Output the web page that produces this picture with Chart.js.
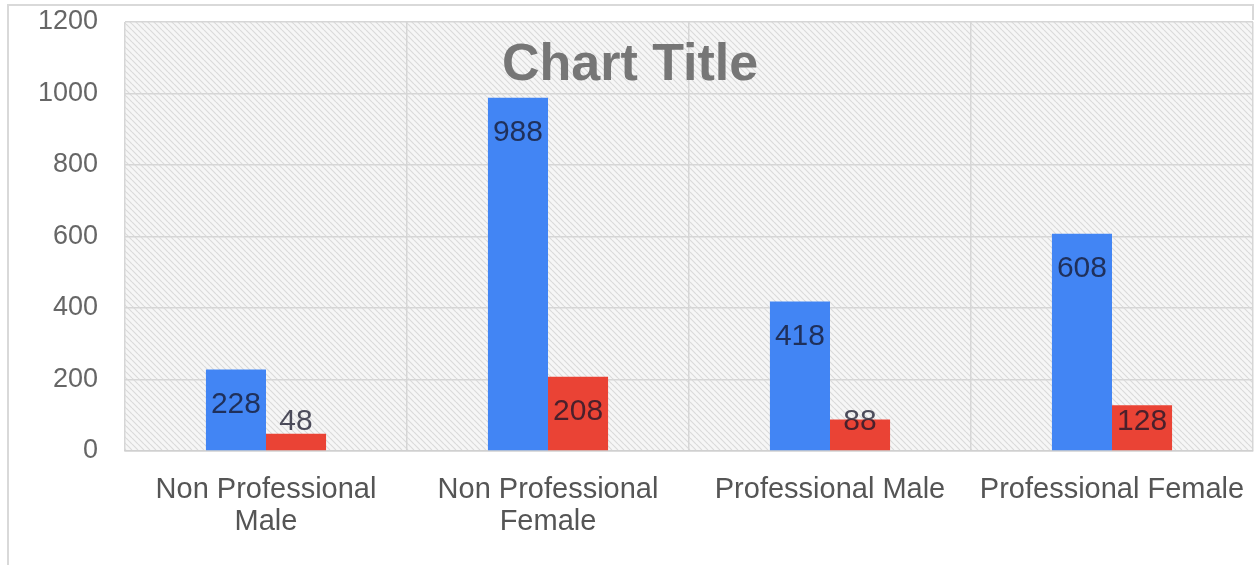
<!DOCTYPE html>
<html>
<head>
<meta charset="utf-8">
<script src="https://cdn.jsdelivr.net/npm/chart.js@4/dist/chart.umd.min.js"></script>
<style>
  html, body { margin: 0; padding: 0; background: #fff; }
  #wrap { width: 1255px; height: 565px; position: relative; }
</style>
</head>
<body>
<div id="wrap"><canvas id="c" width="1255" height="565"></canvas></div>
<script>
const categories = [["Non Professional", "Male"], ["Non Professional", "Female"], "Professional Male", "Professional Female"];
const seriesA = [228, 988, 418, 608];
const seriesB = [48, 208, 88, 128];
const yTicks = [0, 200, 400, 600, 800, 1000, 1200];
const titleText = "Chart Title";

const FONT = "'Liberation Sans', Arial, sans-serif";

function makePattern(ctx) {
  const s = 6;
  const off = document.createElement('canvas');
  off.width = s; off.height = s;
  const o = off.getContext('2d');
  o.fillStyle = '#f6f6f6';
  o.fillRect(0, 0, s, s);
  o.strokeStyle = '#dadada';
  o.lineWidth = 1.2;
  o.beginPath();
  o.moveTo(0, 0); o.lineTo(s, s);
  o.moveTo(-s, 0); o.lineTo(0, s);
  o.moveTo(0, -s); o.lineTo(s, 0);
  o.stroke();
  return ctx.createPattern(off, 'repeat');
}

const bgPlugin = {
  id: 'bgPlugin',
  beforeDraw(chart) {
    const { ctx, chartArea: a } = chart;
    ctx.save();
    ctx.fillStyle = makePattern(ctx);
    ctx.fillRect(a.left, a.top, a.right - a.left, a.bottom - a.top);
    ctx.restore();
  },
  beforeDatasetsDraw(chart) {
    const { ctx } = chart;
    ctx.save();
    ctx.font = "bold 52px " + FONT;
    ctx.fillStyle = '#767676';
    ctx.textAlign = 'center';
    ctx.textBaseline = 'middle';
    ctx.fillText(titleText, 630, 66);
    ctx.restore();
  },
  afterDatasetsDraw(chart) {
    const { ctx, chartArea: a } = chart;
    ctx.save();
    ctx.font = "30px " + FONT;
    ctx.fillStyle = 'rgba(20,20,40,0.75)';
    ctx.textAlign = 'center';
    ctx.textBaseline = 'middle';
    chart.data.datasets.forEach((ds, di) => {
      chart.getDatasetMeta(di).data.forEach((bar, i) => {
        const y = Math.min(bar.y + 35, a.bottom - 29);
        ctx.fillText(String(ds.data[i]), bar.x, y);
      });
    });
    ctx.restore();
  },
  afterDraw(chart) {
    const { ctx } = chart;
    ctx.save();
    ctx.strokeStyle = '#d9d9d9';
    ctx.lineWidth = 2;
    ctx.beginPath();
    ctx.moveTo(8, 565); ctx.lineTo(8, 5); ctx.lineTo(1253, 5); ctx.lineTo(1253, 20);
    ctx.stroke();
    ctx.restore();
  }
};

new Chart(document.getElementById('c'), {
  type: 'bar',
  data: {
    labels: categories,
    datasets: [
      { label: 'Series 1', data: seriesA, backgroundColor: '#4285f4', barPercentage: 1, categoryPercentage: 0.426 },
      { label: 'Series 2', data: seriesB, backgroundColor: '#ea4335', barPercentage: 1, categoryPercentage: 0.426 }
    ]
  },
  options: {
    responsive: false,
    animation: false,
    layout: { padding: { left: 0, top: 22, right: 2, bottom: 0 } },
    plugins: { legend: { display: false }, tooltip: { enabled: false }, title: { display: false } },
    scales: {
      x: {
        offset: true,
        grid: { display: true, offset: true, color: '#d6d6d6', lineWidth: 1.5, drawTicks: false },
        border: { display: true, color: '#d0d0d0', width: 1.5 },
        ticks: { color: '#555', font: { family: FONT, size: 29, lineHeight: 1.1 }, padding: 23, maxRotation: 0, autoSkip: false },
        afterFit(s) { s.height = 114; s.paddingLeft = 0; s.paddingRight = 0; }
      },
      y: {
        min: 0, max: 1200,
        afterBuildTicks(s) { s.ticks = yTicks.map(v => ({ value: v })); },
        grid: { color: '#d6d6d6', lineWidth: 1.5, drawTicks: false },
        border: { display: false },
        ticks: { color: '#666', font: { family: FONT, size: 27 }, padding: 27, callback: (v) => String(v) },
        afterFit(s) { s.width = 125; s.paddingTop = 0; s.paddingBottom = 0; }
      }
    }
  },
  plugins: [bgPlugin]
});
</script>
</body>
</html>
